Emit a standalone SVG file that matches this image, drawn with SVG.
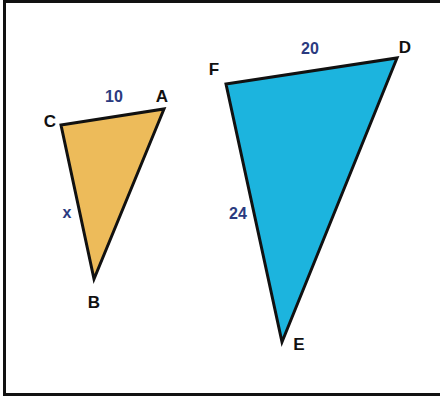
<svg xmlns="http://www.w3.org/2000/svg" width="440" height="403" viewBox="0 0 440 403">
<style>
.tri{stroke:#111;stroke-width:3;stroke-linejoin:miter}
.v{font-family:"Liberation Sans",Arial,sans-serif;font-weight:bold;font-size:17px;fill:#111;text-anchor:middle}
.m{font-family:"Liberation Sans",Arial,sans-serif;font-weight:bold;font-size:16px;fill:#2b3a80;text-anchor:middle}
</style>
<rect x="0" y="0" width="440" height="403" fill="#fff"/>
<rect x="4.5" y="1.5" width="440" height="393" fill="none" stroke="#111" stroke-width="3"/>
<g id="triangle-ABC">
<polygon class="tri" points="61,125 164,109 94,279" fill="#edbb5a"/>
<text class="v" x="50" y="127">C</text>
<text class="v" x="162" y="102">A</text>
<text class="v" x="94" y="308">B</text>
<text class="m" x="114" y="102">10</text>
<text class="m" x="67" y="218">x</text>
</g>
<g id="triangle-DEF">
<polygon class="tri" points="226,84 397,58 282,342" fill="#1cb4de"/>
<text class="v" x="214" y="75">F</text>
<text class="v" x="405" y="53">D</text>
<text class="v" x="299" y="350">E</text>
<text class="m" x="310" y="54">20</text>
<text class="m" x="238" y="219">24</text>
</g>
<g id="connectors"></g>
</svg>
